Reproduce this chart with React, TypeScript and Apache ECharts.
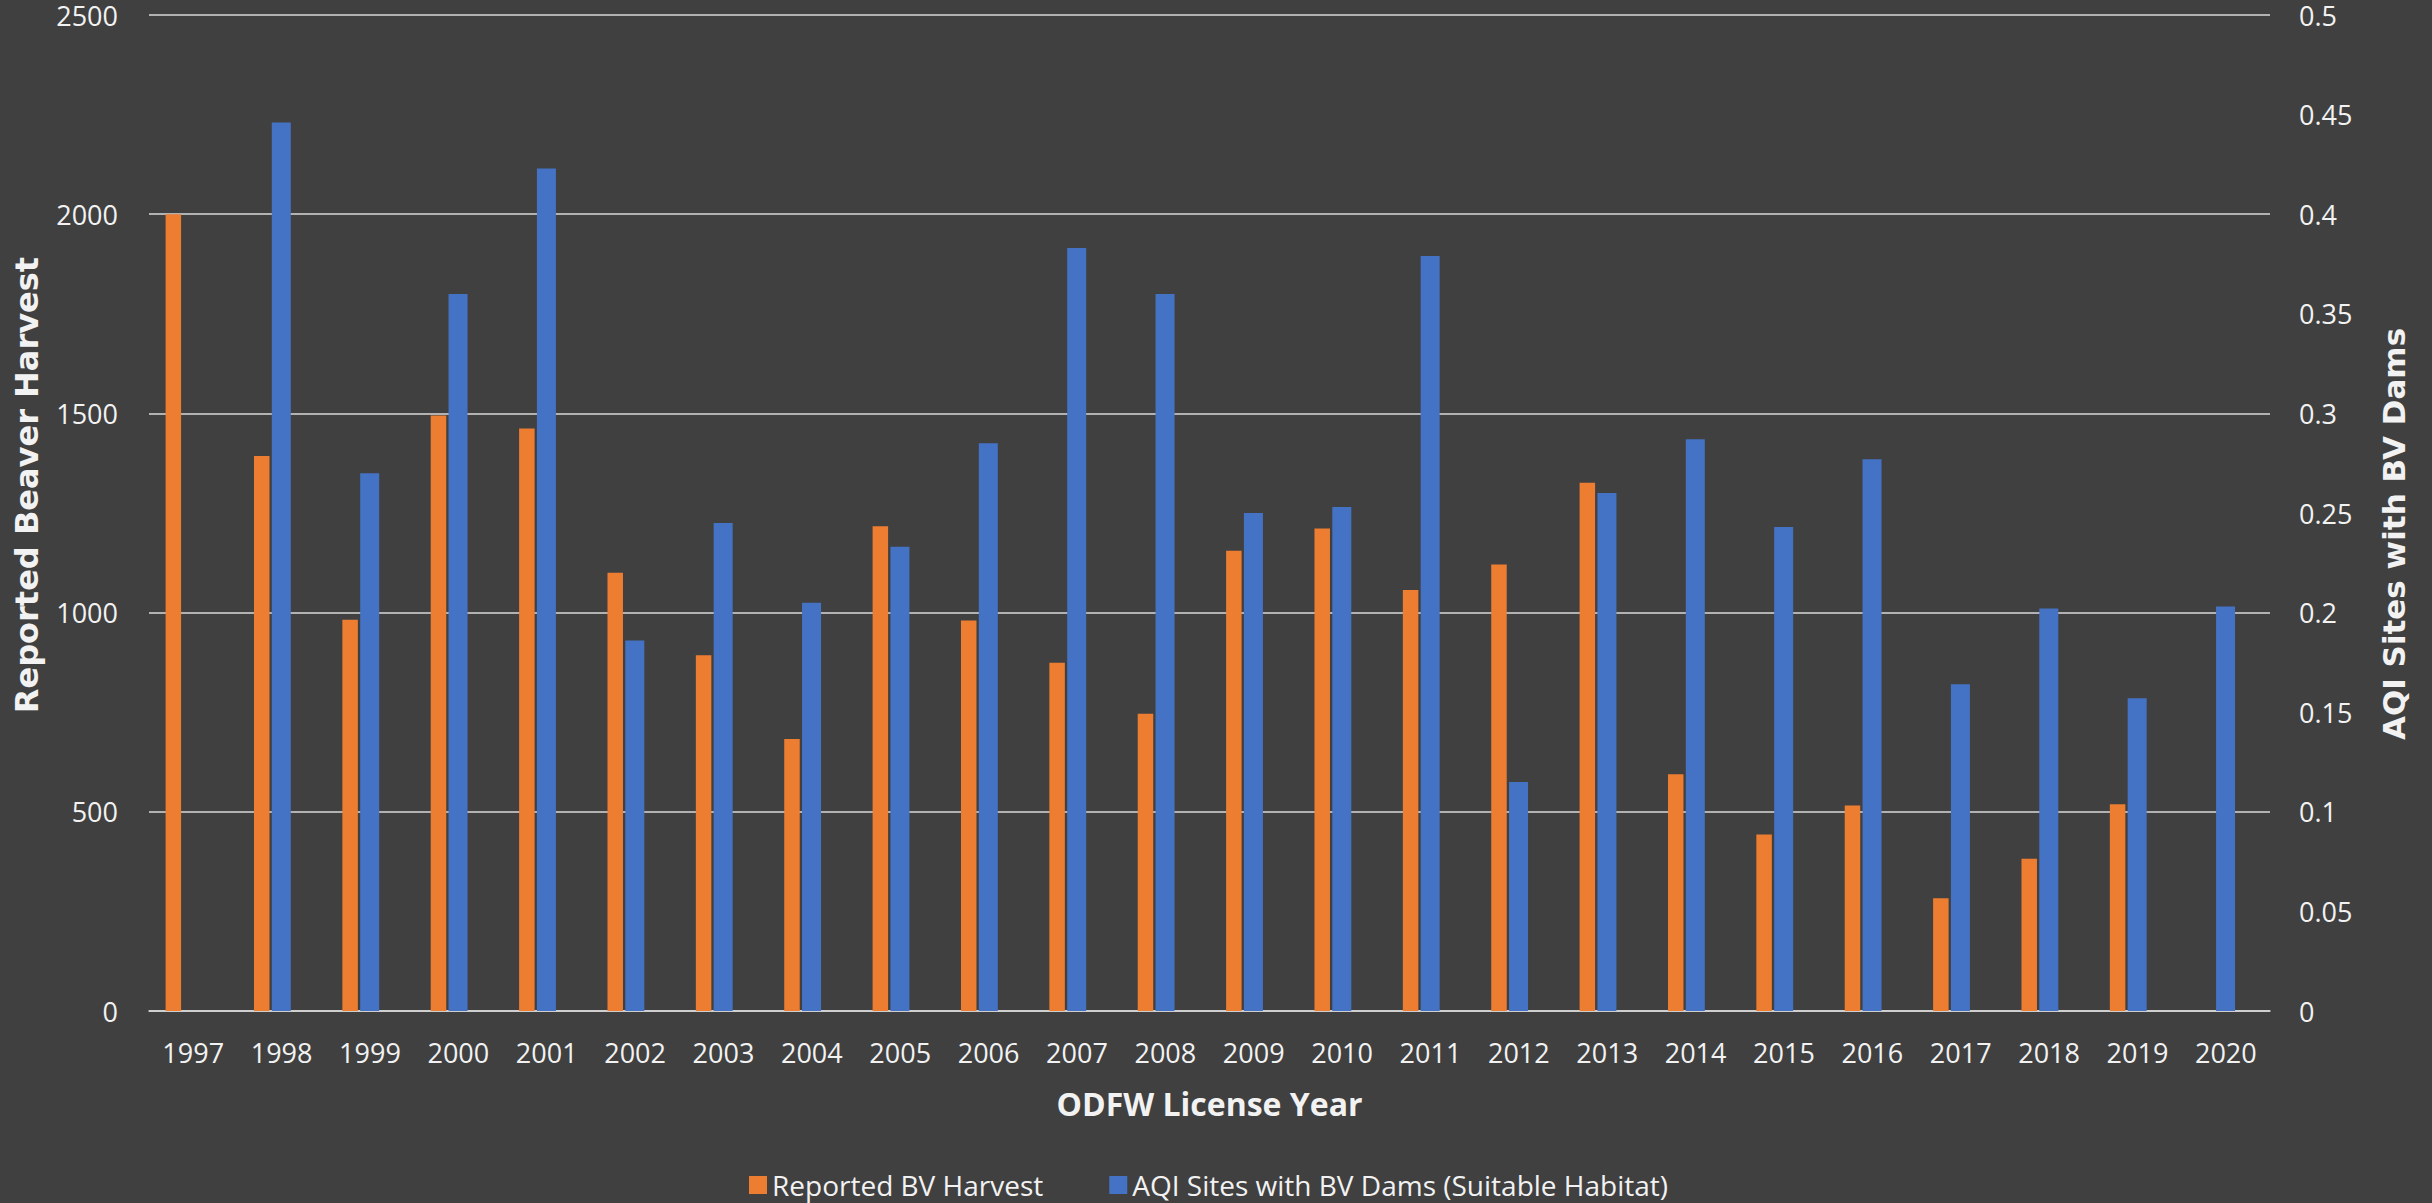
import React, { useEffect, useRef } from "react";
import * as echarts from "echarts";

const years = ["1997","1998","1999","2000","2001","2002","2003","2004","2005","2006","2007","2008","2009","2010","2011","2012","2013","2014","2015","2016","2017","2018","2019","2020"];
const harvest = [2000, 1393, 982, 1495, 1462, 1100, 893, 683, 1217, 980, 874, 746, 1155, 1211, 1057, 1121, 1326, 594, 443, 516, 283, 382, 519, null];
const habitat = [null, 0.446, 0.270, 0.360, 0.423, 0.186, 0.245, 0.205, 0.233, 0.285, 0.383, 0.360, 0.250, 0.253, 0.379, 0.115, 0.260, 0.287, 0.243, 0.277, 0.164, 0.202, 0.157, 0.203];
const spacer = years.map(() => null);

const harvestName = "Reported BV Harvest";
const habitatName = "AQI Sites with BV Dams (Suitable Habitat)";

export default function App() {
  const ref = useRef<HTMLDivElement>(null);
  useEffect(() => {
    const chart = echarts.init(ref.current!, null, { renderer: "svg" });
    const txt = "#f2f2f2";
    chart.setOption({
      animation: false,
      backgroundColor: "#404040",
      grid: { left: 149, right: 162, top: 15, bottom: 192, containLabel: false },
      legend: {
        data: [harvestName, habitatName],
        left: 744,
        top: 1166,
        padding: 5,
        itemWidth: 18,
        itemHeight: 18,
        itemGap: 66,
        icon: "rect",
        textStyle: { color: txt, fontSize: 28, lineHeight: 22, fontFamily: "Open Sans" },
      },
      xAxis: {
        type: "category",
        data: years,
        name: "ODFW License Year",
        nameLocation: "middle",
        nameGap: 76,
        nameTextStyle: { color: txt, fontSize: 32, fontWeight: "bold", fontFamily: "Open Sans" },
        axisLine: { show: true, lineStyle: { color: "#d9d9d9", width: 1.5 } },
        axisTick: { show: false },
        axisLabel: { color: txt, fontSize: 27, fontFamily: "Open Sans", margin: 28, interval: 0 },
        splitLine: { show: false },
      },
      yAxis: [
        {
          type: "value",
          min: 0,
          max: 2500,
          interval: 500,
          name: "Reported Beaver Harvest",
          nameLocation: "middle",
          nameRotate: 90,
          nameGap: 106,
          nameTextStyle: { color: txt, fontSize: 32, fontWeight: "bold", fontFamily: "DejaVu Sans", padding: [0, 0, 0, 56] },
          axisLine: { show: false },
          axisTick: { show: false },
          axisLabel: {
            color: txt,
            fontSize: 27,
            lineHeight: 20,
            fontFamily: "Open Sans",
            margin: 31,
            formatter: (v: number) => String(v),
          },
          splitLine: { show: true, lineStyle: { color: "#d9d9d9", width: 1.5 } },
        },
        {
          type: "value",
          min: 0,
          max: 0.5,
          interval: 0.05,
          name: "AQI Sites with BV Dams",
          nameLocation: "middle",
          nameRotate: 90,
          nameGap: 108,
          nameTextStyle: { color: txt, fontSize: 31, fontWeight: "bold", fontFamily: "DejaVu Sans", padding: [0, 42, 0, 0] },
          axisLine: { show: false },
          axisTick: { show: false },
          axisLabel: { color: txt, fontSize: 27, lineHeight: 20, fontFamily: "Open Sans", margin: 29 },
          splitLine: { show: false },
        },
      ],
      series: [
        {
          name: harvestName,
          type: "bar",
          yAxisIndex: 0,
          data: harvest,
          barWidth: 15.5,
          barGap: "15%",
          itemStyle: { color: "#ED7D31" },
        },
        {
          name: habitatName,
          type: "bar",
          yAxisIndex: 1,
          data: habitat,
          barWidth: 19,
          barGap: "15%",
          itemStyle: { color: "#4472C4" },
        },
        {
          name: "spacer",
          type: "bar",
          yAxisIndex: 0,
          data: spacer,
          barWidth: 15.5,
          barGap: "15%",
          itemStyle: { color: "transparent" },
          silent: true,
        },
      ],
    });
    return () => chart.dispose();
  }, []);
  return (
    <div
      ref={ref}
      style={{ position: "fixed", left: 0, top: 0, width: 2432, height: 1203 }}
    />
  );
}
